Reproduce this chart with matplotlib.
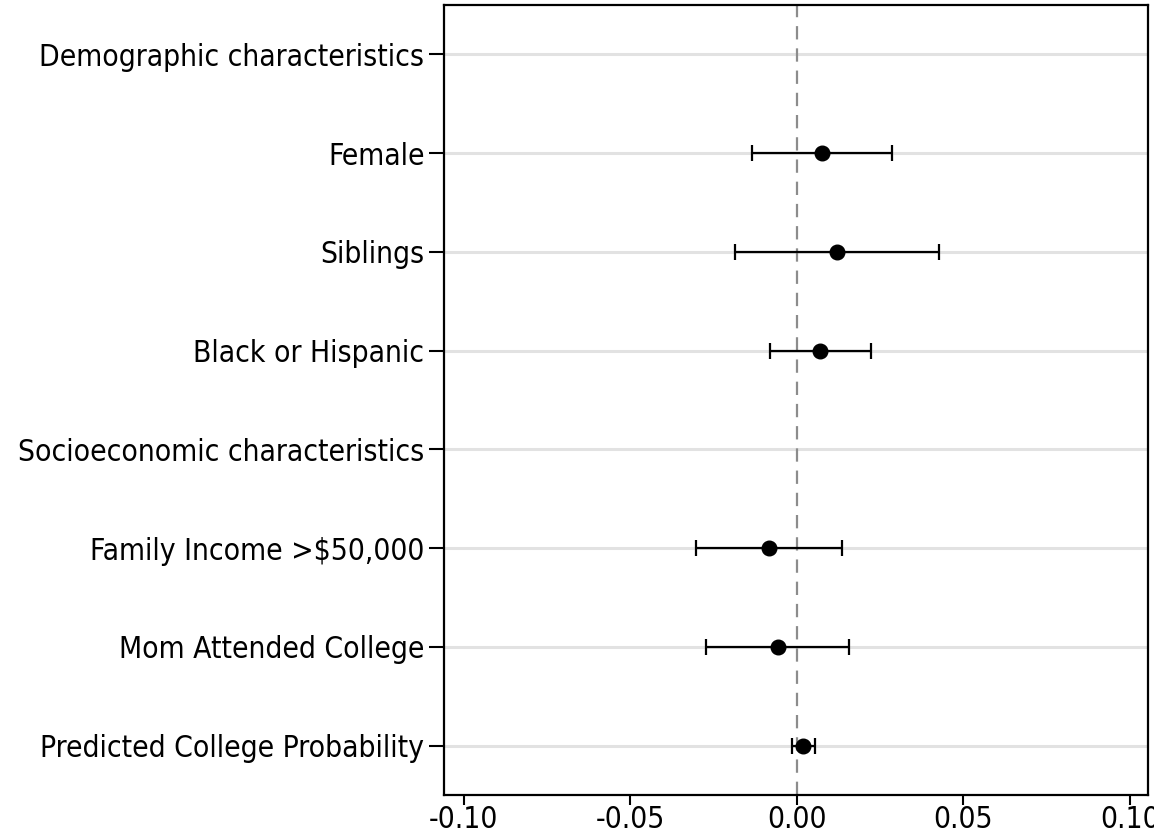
import matplotlib
matplotlib.use("Agg")
import matplotlib.pyplot as plt

labels = [
    "Demographic characteristics",
    "Female",
    "Siblings",
    "Black or Hispanic",
    "Socioeconomic characteristics",
    "Family Income >$50,000",
    "Mom Attended College",
    "Predicted College Probability",
]
# None = header row (no estimate)
coef = [None, 0.0077, 0.0120, 0.0071, None, -0.0085, -0.0057, 0.0020]
ci_lo = [None, -0.0136, -0.0187, -0.0081, None, -0.0304, -0.0273, -0.0014]
ci_hi = [None, 0.0287, 0.0427, 0.0224, None, 0.0135, 0.0158, 0.0054]
xticks = [-0.10, -0.05, 0.00, 0.05, 0.10]

plt.rcParams["font.family"] = ["DejaVu Sans"]
plt.rcParams["font.stretch"] = "condensed"

fig = plt.figure(figsize=(11.54, 8.36), dpi=100)
ax = fig.add_axes([0.3847, 0.049, 0.6101, 0.945])

ypos = list(range(1, len(labels) + 1))
for y in ypos:
    ax.axhline(y, color="#e2e2e2", lw=2.2, zorder=0)
ax.axvline(0, color="#8c8c8c", lw=1.6, ls=(0, (6, 4)), zorder=1)

for y, c, lo, hi in zip(ypos, coef, ci_lo, ci_hi):
    if c is None:
        continue
    ax.errorbar([c], [y], xerr=[[c - lo], [hi - c]], fmt="o", color="black",
                ms=10.5, capsize=6, elinewidth=1.6, capthick=1.6, zorder=3)

ax.set_ylim(len(labels) + 0.5, 0.5)
ax.set_xlim(-0.106, 0.1055)
ax.set_yticks(ypos)
ax.set_yticklabels(labels)
ax.set_xticks(xticks)
ax.set_xticklabels([f"{t:.2f}" for t in xticks])
ax.tick_params(axis="y", length=11, width=1.5, labelsize=21.5, direction="out", pad=3)
ax.tick_params(axis="x", length=7, width=1.5, labelsize=21.5, direction="out", pad=0)
for s in ax.spines.values():
    s.set_linewidth(1.6)

fig.savefig("out.png", dpi=100)
